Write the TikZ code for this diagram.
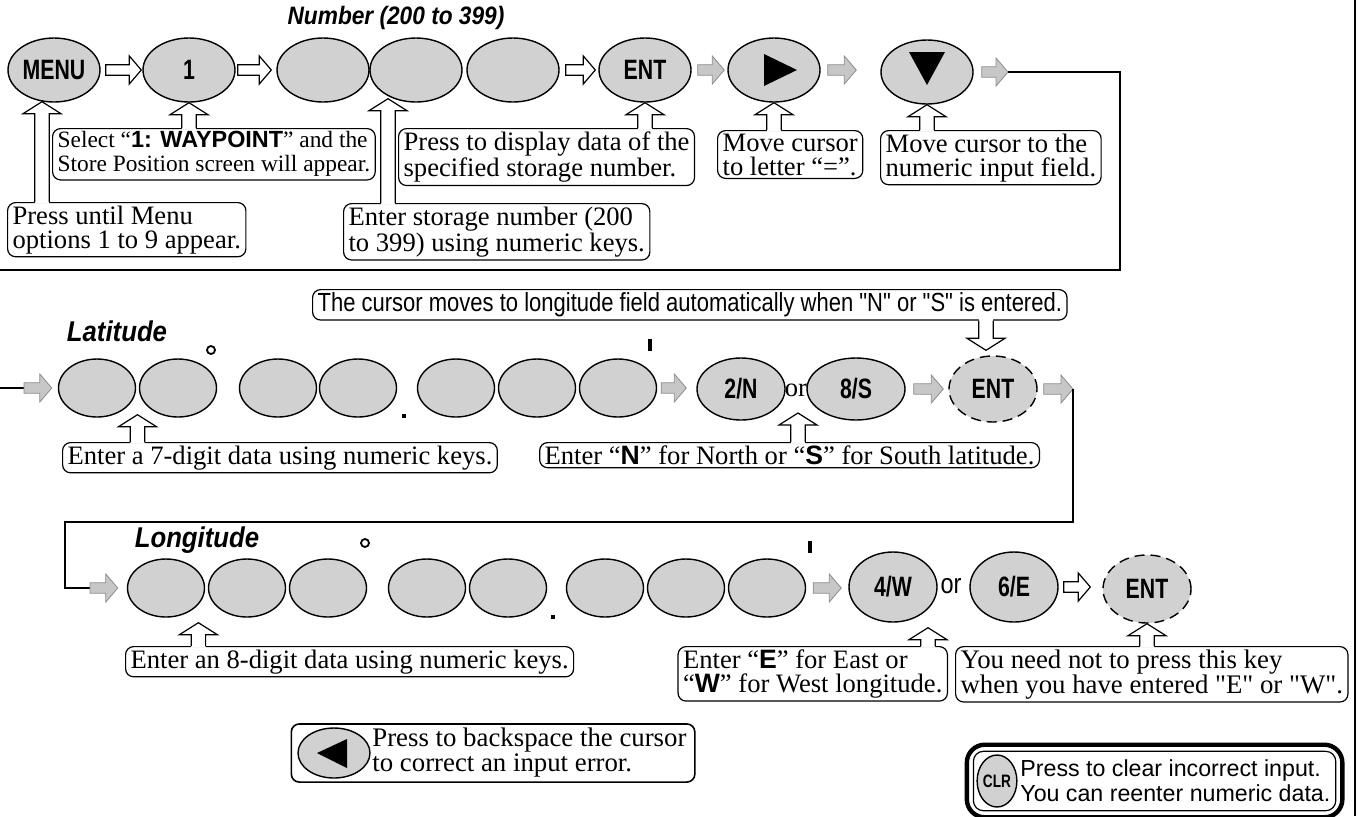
\documentclass[tikz,border=0pt]{standalone}
\usepackage{fontspec}
\setmainfont{Liberation Serif}
\setsansfont{Liberation Sans}
\newfontfamily\narrowfont[FakeStretch=0.84]{Liberation Sans}
\newfontfamily\headfont[FakeStretch=0.9]{Liberation Sans}
\newfontfamily\keyfont[FakeStretch=0.76]{Liberation Sans}
\usetikzlibrary{calc,fit,shapes.geometric}

% bold sans letters inside the serif notes
\newcommand{\kb}[1]{{\sffamily\bfseries #1}}

% block arrow from #2 to #3 (horizontal), style #1
\newcommand{\blk}[3]{%
  \path[#1] let \p1=(#2), \p2=(#3) in
    (\x1,{\y1+2.6pt}) -- ({\x2-6pt},{\y1+2.6pt}) -- ({\x2-6pt},{\y1+7pt})
    -- (\x2,\y1) -- ({\x2-6pt},{\y1-7pt}) -- ({\x2-6pt},{\y1-2.6pt})
    -- (\x1,{\y1-2.6pt}) -- cycle;}

% hollow pointer from a note edge #1 to the tip #2
\newcommand{\callout}[2]{%
  \fill[white] let \p1=(#1), \p2=(#2), \n1={sign(\y2-\y1)} in
    ({\x2-3.6pt},{\y1-(\n1)*0.8pt}) -- ({\x2-3.6pt},{\y2-(\n1)*6pt})
    -- ({\x2-9.5pt},{\y2-(\n1)*6pt}) -- (\x2,\y2) -- ({\x2+9.5pt},{\y2-(\n1)*6pt})
    -- ({\x2+3.6pt},{\y2-(\n1)*6pt}) -- ({\x2+3.6pt},{\y1-(\n1)*0.8pt}) -- cycle;
  \draw[line width=0.6pt] let \p1=(#1), \p2=(#2), \n1={sign(\y2-\y1)} in
    ({\x2-3.6pt},\y1) -- ({\x2-3.6pt},{\y2-(\n1)*6pt})
    -- ({\x2-9.5pt},{\y2-(\n1)*6pt}) -- (\x2,\y2) -- ({\x2+9.5pt},{\y2-(\n1)*6pt})
    -- ({\x2+3.6pt},{\y2-(\n1)*6pt}) -- ({\x2+3.6pt},\y1);}

\begin{document}
\begin{tikzpicture}[x=0.5pt,y=-0.5pt,
    key/.style={ellipse, draw, line width=0.7pt, fill=black!18, inner sep=0pt,
                font=\keyfont\bfseries\fontsize{14}{15}\selectfont},
    bigkey/.style={key, minimum width=46pt, minimum height=32pt},
    digkey/.style={key, minimum width=38.5pt, minimum height=29pt},
    optkey/.style={key, minimum width=44pt, minimum height=31pt},
    skipkey/.style={optkey, dash pattern=on 5pt off 3pt},
    note/.style={draw, rounded corners=4pt, line width=0.6pt, fill=white, align=left,
                 inner xsep=2.5pt, inner ysep=1.5pt, font=\fontsize{13.3}{12}\selectfont},
    hol/.style={draw, line width=0.6pt, fill=white},
    dot/.style={draw=black!45, line width=0.4pt, fill=black!22},
    wire/.style={line width=0.7pt},
    head/.style={font=\headfont\bfseries\itshape\fontsize{14.3}{15}\selectfont},
    deg/.style={circle, draw, line width=0.9pt, inner sep=0pt, minimum size=4pt},
    tick/.style={fill, inner sep=0pt}]
\useasboundingbox (0,0) rectangle (1360,816);

% top row
\node[head, font=\headfont\bfseries\itshape\fontsize{12.6}{14}\selectfont] (numlbl) at (396,18) {Number (200 to 399)};
\node[bigkey] (menu) at (54,70) {MENU};
\node[bigkey] (one) at (189,70) {1};
\node[bigkey] (n1) at (323,70) {};
\node[bigkey] (n2) at (416,70) {};
\node[bigkey] (n3) at (513,70) {};
\node[bigkey] (ent1) at (645,70) {ENT};
\node[bigkey] (rt) at (774,70) {};
\node[bigkey] (dn) at (927,72) {};
\fill ($(rt)+(-10,-16)$) -- ($(rt)+(23,0)$) -- ($(rt)+(-10,16)$) -- cycle;
\fill ($(dn)+(-18,-20)$) -- ($(dn)+(18,-20)$) -- ($(dn)+(0,13)$) -- cycle;

\blk{hol}{$(menu.east)+(5,0)$}{$(one.west)+(-1,0)$}
\blk{hol}{$(one.east)+(2,0)$}{$(n1.west)+(-5,0)$}
\blk{hol}{$(n3.east)+(6,0)$}{$(ent1.west)+(-3,0)$}
\blk{dot}{$(ent1.east)+(6,0)$}{$(rt.west)+(-3,0)$}
\blk{dot}{$(rt.east)+(7,0)$}{$(dn.west)+(-24,0)$}
\coordinate (wA) at (1008,72);
\coordinate (wB) at (1120,270);
\coordinate (wC) at (0,270);
\blk{dot}{$(dn.east)+(8,0)$}{wA}
\draw[wire] (wA) -| (wB) -- (wC);

\node[note, anchor=north west, font=\fontsize{11.7}{12}\selectfont] (selc) at (52,128)
  {Select “\kb{1: WAYPOINT}” and the\\Store Position screen will appear.};
\node[note, anchor=north west] (menuc) at (7,202) {Press until Menu\\options 1 to 9 appear.};
\node[note, anchor=north west] (dispc) at (398,128) {Press to display data of the\\specified storage number.};
\node[note, anchor=north west] (storc) at (343,203) {Enter storage number (200\\to 399) using numeric keys.};
\node[note, anchor=north west] (mv1c) at (717,130) {Move cursor\\to letter “=”.};
\node[note, anchor=north west] (mv2c) at (880,130) {Move cursor to the\\numeric input field.};
\callout{menuc.north}{$(menu.south)+(-12,-1)$}
\callout{selc.north}{one.south}
\callout{storc.north}{$(n2.south)+(-28,-4)$}
\callout{dispc.north}{ent1.south}
\callout{mv1c.north}{rt.south}
\callout{mv2c.north}{dn.south}

% latitude row
\node[note, anchor=north west, font=\narrowfont\fontsize{13.1}{14}\selectfont] (autoc) at (312,289)
  {The cursor moves to longitude field automatically when "N" or "S" is entered.};
\node[head] (latlbl) at (117,331) {Latitude};
\coordinate (wD) at (0,388);
\coordinate (wE) at (24,388);
\node[digkey] (la1) at (97,388) {};
\node[digkey] (la2) at (178,388) {};
\node[digkey] (la3) at (278,388) {};
\node[digkey] (la4) at (358,388) {};
\node[digkey] (la5) at (456,388) {};
\node[digkey] (la6) at (537,388) {};
\node[digkey] (la7) at (618,388) {};
\node[deg] (deg1) at (211,350) {};
\node[tick, minimum size=2.2pt] (pt1) at (404,416) {};
\node[tick, minimum width=1.8pt, minimum height=6pt] (min1) at (650,345) {};
\draw[wire] (wD) -- (wE);
\blk{dot}{wE}{$(la1.west)+(-6,0)$}
\node[optkey] (kn) at (741,389) {2/N};
\node[font=\fontsize{13.3}{12}\selectfont] (or1) at (796,390) {or};
\node[optkey, minimum width=49pt] (ks) at (856,389) {8/S};
\node[skipkey, minimum height=33pt] (ent2) at (993,389) {ENT};
\blk{dot}{$(la7.east)+(4,0)$}{$(kn.west)+(-10,0)$}
\blk{dot}{$(ks.east)+(8,0)$}{$(ent2.west)+(-5,0)$}
\coordinate (wF) at (1073,389);
\coordinate (wG) at (90,588);
\blk{dot}{$(ent2.east)+(6,0)$}{wF}
\draw[wire] (wF) -- (1073,522) -- (65,522) -- (65,588) -- (wG);

\node[note, anchor=north west] (lat7c) at (62,442) {Enter a 7-digit data using numeric keys.};
\node[note, anchor=north east] (latnsc) at (1040,442)
  {Enter “\kb{N}” for North or “\kb{S}” for South latitude.};
\callout{autoc.south}{$(ent2.north)+(-7,-5)$}
\callout{lat7c.north}{$(la1.south)!0.5!(la2.south)+(0,-3)$}
\callout{latnsc.north}{$(or1)+(2,23)$}

% longitude row
\node[head] (lonlbl) at (197,540) {Longitude};
\node[digkey] (lo1) at (166,588) {};
\node[digkey] (lo2) at (247,588) {};
\node[digkey] (lo3) at (328,588) {};
\node[digkey] (lo4) at (427,588) {};
\node[digkey] (lo5) at (508,588) {};
\node[digkey] (lo6) at (605,588) {};
\node[digkey] (lo7) at (686,588) {};
\node[digkey] (lo8) at (767,588) {};
\node[deg] (deg2) at (365,543) {};
\node[tick, minimum size=2.2pt] (pt2) at (553,617) {};
\node[tick, minimum width=1.8pt, minimum height=6pt] (min2) at (810,547) {};
\blk{dot}{wG}{$(lo1.west)+(-9,0)$}
\node[optkey, minimum height=35pt] (kw) at (893,587) {4/W};
\node[font=\narrowfont\fontsize{14}{12}\selectfont] (or2) at (951,586) {or};
\node[optkey, minimum height=35pt] (ke) at (1014,587) {6/E};
\node[skipkey, minimum height=34pt] (ent3) at (1147,589) {ENT};
\blk{dot}{$(lo8.east)+(7,0)$}{$(kw.west)+(-7,0)$}
\blk{hol}{$(ke.east)+(5,0)$}{$(ent3.west)+(-12,0)$}

\node[note, anchor=north west] (lon8c) at (125,646) {Enter an 8-digit data using numeric keys.};
\node[note, anchor=north east] (lonewc) at (948,646) {Enter “\kb{E}” for East or\\“\kb{W}” for West longitude.};
\node[note, anchor=north west, font=\fontsize{13.4}{12.5}\selectfont] (needc) at (955,646)
  {You need not to press this key\\when you have entered \textquotedbl E\textquotedbl{} or \textquotedbl W\textquotedbl.};
\callout{lon8c.north}{$(lo1.south)!0.4!(lo2.south)+(0,5)$}
\callout{lonewc.north}{$(kw.south)+(35,5)$}
\callout{needc.north}{ent3.south}

% key legends
\node[key, minimum width=36pt, minimum height=25pt] (bskey) at (334,753) {};
\fill ($(bskey)+(-17,0)$) -- ($(bskey)+(13,-14)$) -- ($(bskey)+(13,15)$) -- cycle;
\node[anchor=west, align=left, inner sep=1pt, font=\fontsize{13.4}{12.5}\selectfont] (bstxt) at (370,753)
  {Press to backspace the cursor\\to correct an input error.};
\node[draw, rounded corners=4pt, line width=0.8pt, inner xsep=3pt, inner ysep=1pt, fit=(bskey)(bstxt)] (bsbox) {};

\node[key, minimum width=19pt, minimum height=26pt, font=\keyfont\bfseries\fontsize{9}{9}\selectfont] (clr) at (997,781) {CLR};
\node[anchor=west, align=left, inner sep=1pt, font=\sffamily\fontsize{11.6}{12.5}\selectfont] (clrtxt) at (1018,781)
  {Press to clear incorrect input.\\You can reenter numeric data.};
\node[draw, rounded corners=5pt, line width=0.6pt, inner sep=1.5pt, fit=(clr)(clrtxt)] (clrin) {};
\node[draw, rounded corners=9pt, line width=2.2pt, inner sep=3pt, fit=(clrin)] (clrout) {};

% page edge
\coordinate (fr1) at (1355,0);
\coordinate (fr2) at (1355,816);
\draw[line width=1pt] (fr1) -- (fr2);
\end{tikzpicture}
\end{document}
